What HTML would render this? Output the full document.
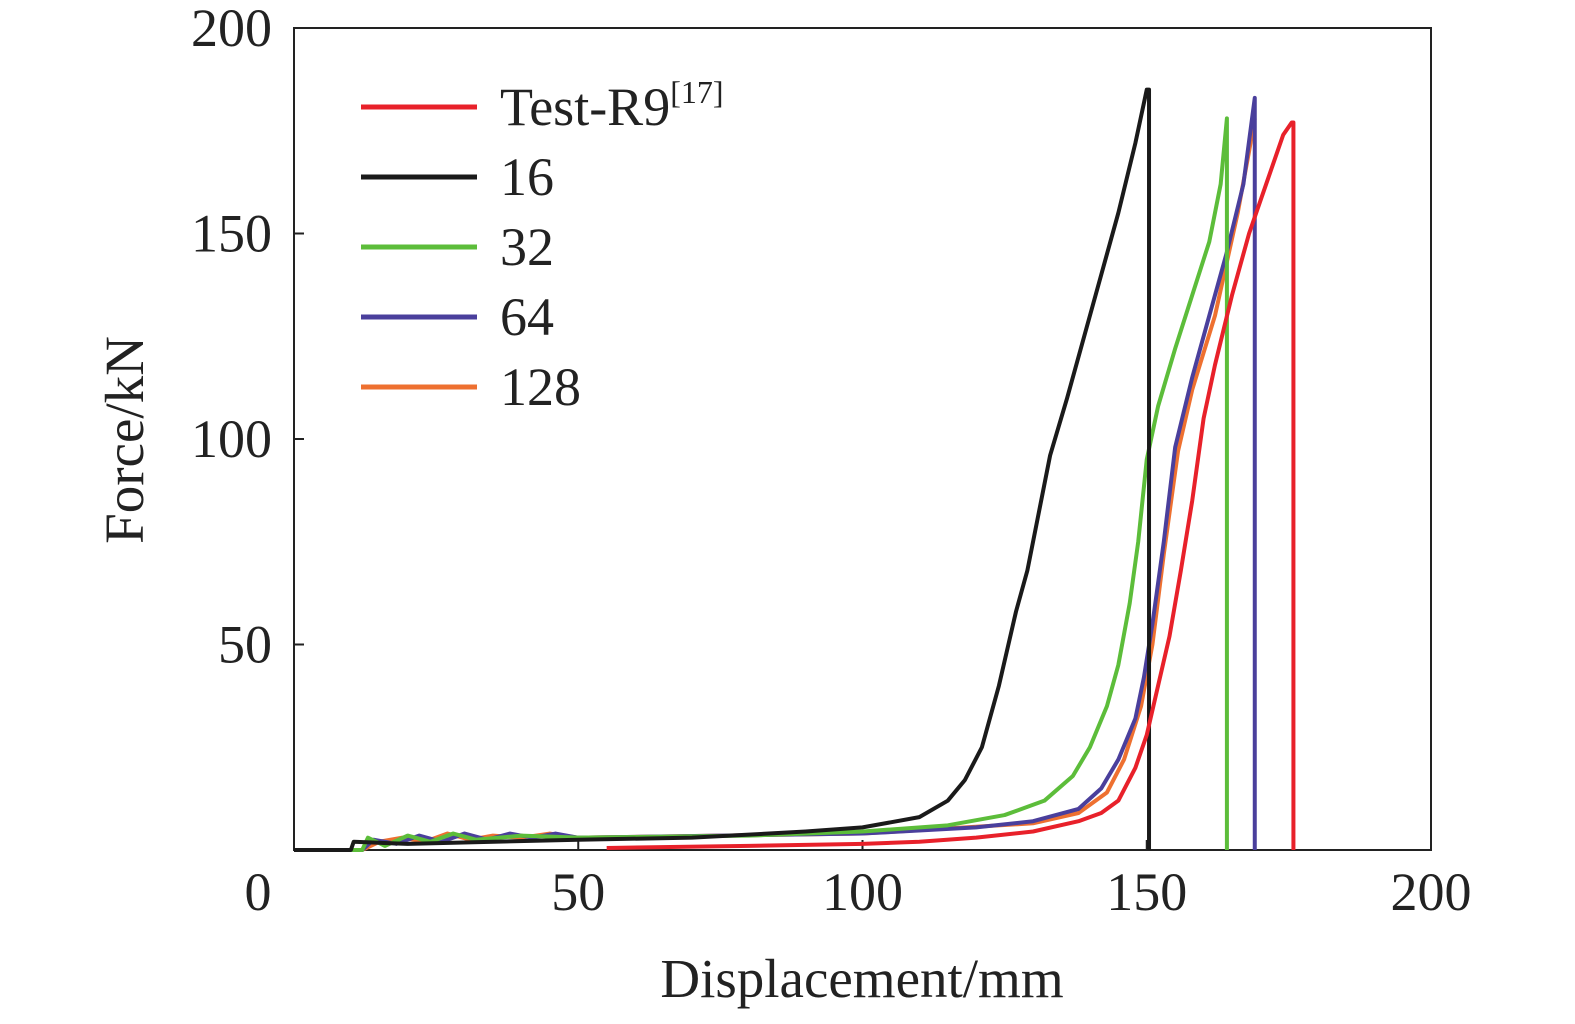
<!DOCTYPE html>
<html><head><meta charset="utf-8"><style>
body{margin:0;background:#fff;}
svg text{font-family:"Liberation Serif",serif;fill:#222;}
</style></head><body>
<svg width="1575" height="1019" viewBox="0 0 1575 1019">
<g id="plot"></g>
</svg>
<script>
const xTicks=[0,50,100,150,200];
const yTicks=[50,100,150,200];
const seriesNames=["Test-R9","16","32","64","128"];
const seriesColors=["#e8212a","#1a1a1a","#5cbd3a","#4a3f9c","#ee7030"];
const testX=[55,80,100,110,120,130,138,142,145,148,150,152,154,156,158,160,162,165,168,171,174,175.5,175.8,175.8];
const testY=[0.5,1,1.5,2,3,4.5,7,9,12,20,28,40,52,68,85,105,118,135,150,162,174,177,177,0];
const s16X=[0,10,10.5,20,50,70,90,100,110,115,118,121,124,127,129,131,133,136,139,142,145,148,150,150.4,150.4];
const s16Y=[0,0,2,1.5,2.5,3,4.5,5.5,8,12,17,25,40,58,68,82,96,110,125,140,155,172,185,185,0];
const s32X=[0,12,13,16,20,24,28,32,40,50,80,100,115,125,132,137,140,143,145,147,148.5,150,152,155,158,161,163,164.1,164.1];
const s32Y=[0,0,3,1,3.5,2,4,2.5,3.5,3,3.5,4.5,6,8.5,12,18,25,35,45,60,75,95,108,122,135,148,162,178,0];
const s64X=[0,12,14,18,22,26,30,34,38,42,46,50,100,120,130,138,142,145,148,149.5,151,153,155,158,161,164,167,169,169,169];
const s64Y=[0,0,2.5,1.5,3.5,2,4,2.5,4,3,4,3,4,5.5,7,10,15,22,32,42,55,75,98,115,130,145,162,183,183,0];
const s128X=[0,12,15,19,23,27,31,35,40,45,50,100,130,138,143,146,149,151,153,155.5,158,162,166,168,169];
const s128Y=[0,0,2,3,2,4,2.5,3.5,3,4,3,4,6.5,9,14,22,35,50,72,97,112,130,155,170,178];
const L=294,R=1431,T=28,B=850;
const xs=v=>L+(R-L)*v/200, ys=v=>B-(B-T)*v/200;
const NS="http://www.w3.org/2000/svg";
const g=document.getElementById('plot');
function mk(t,a){const e=document.createElementNS(NS,t);for(const k in a)e.setAttribute(k,a[k]);g.appendChild(e);return e;}
const frame=mk('rect',{x:L,y:T,width:R-L,height:B-T,fill:'none',stroke:'#222','stroke-width':2});


xTicks.forEach(v=>{
 const tk=mk('line',{x1:xs(v),x2:xs(v),y1:B,y2:B-10,stroke:'#222','stroke-width':2});
 
 
 const t=mk('text',{x:v===0?258:xs(v),y:910,'font-size':54,'text-anchor':'middle'});t.textContent=v;
 
 
});
yTicks.forEach(v=>{
 const tk=mk('line',{x1:L,x2:L+10,y1:ys(v),y2:ys(v),stroke:'#222','stroke-width':2});
 
 
 const t=mk('text',{x:272,y:ys(v)+18,'font-size':54,'text-anchor':'end'});t.textContent=v;
 
 
});
const xt=mk('text',{x:862,y:997,'font-size':55,'text-anchor':'middle'});xt.textContent='Displacement/mm';


const yt=mk('text',{x:0,y:0,'font-size':55,'text-anchor':'middle',transform:'translate(143,440) rotate(-90)'});yt.textContent='Force/kN';


const data=[[s128X,s128Y,4],[s64X,s64Y,3],[s32X,s32Y,2],[s16X,s16Y,1],[testX,testY,0]];
data.forEach(([X,Y,i])=>{
 const p=mk('polyline',{points:X.map((x,j)=>xs(x)+','+ys(Y[j])).join(' '),fill:'none',stroke:seriesColors[i],'stroke-width':4,'stroke-linejoin':'round'});
 
 
});
seriesNames.forEach((n,i)=>{
 const y=107+70*i;
 const l=mk('line',{x1:361,x2:477,y1:y,y2:y,stroke:seriesColors[i],'stroke-width':5});
 
 
 const t=mk('text',{x:500,y:y+18,'font-size':54});
 
 
 if(i===0){t.innerHTML='Test-R9<tspan font-size="32" dy="-22">[17]</tspan>';}
 else t.textContent=n;
});
</script>
</body></html>
